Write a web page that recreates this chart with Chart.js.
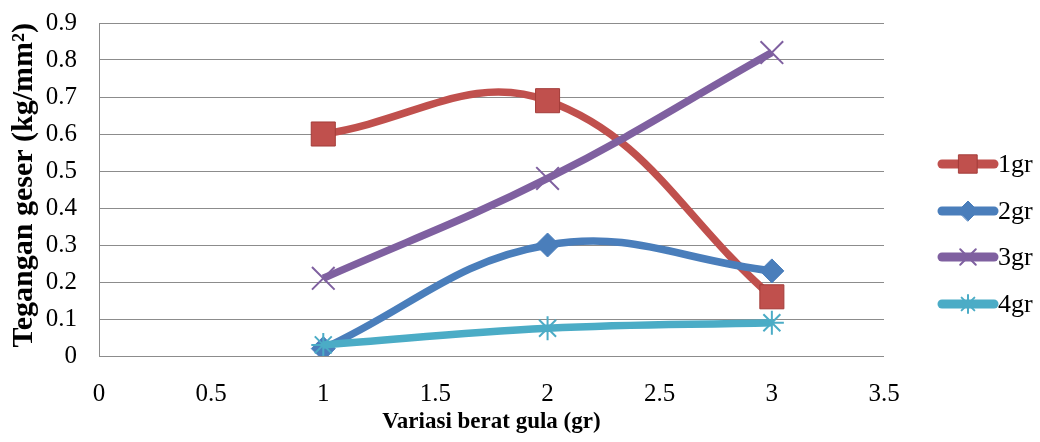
<!DOCTYPE html>
<html>
<head>
<meta charset="utf-8">
<script src="https://cdn.jsdelivr.net/npm/chart.js@4"></script>
<style>
  html, body { margin: 0; padding: 0; background: #fff; }
  #wrap { width: 1040px; height: 442px; }
</style>
</head>
<body>
<div id="wrap"><canvas id="chart"></canvas></div>
<script>
// values
const xValues = [1, 2, 3];
const seriesNames = ['1gr', '2gr', '3gr', '4gr'];
const gr1 = [0.60, 0.69, 0.16];
const gr2 = [0.02, 0.30, 0.23];
const gr3 = [0.21, 0.48, 0.82];
const gr4 = [0.03, 0.075, 0.09];

const colors = ['#C0504D', '#4A7EBB', '#7F60A0', '#4BACC6'];
const markers = ['rect', 'rectRot', 'crossRot', 'star'];
const markerSize = [17, 12, 16, 12];
const allSeries = [gr1, gr2, gr3, gr4];

const FONT = "'Liberation Serif', 'Times New Roman', serif";

const fmt = v => String(+Number(v).toFixed(2));

const datasets = allSeries.map((vals, i) => ({
    label: seriesNames[i],
    data: xValues.map((x, j) => ({ x: x, y: vals[j] })),
    showLine: true,
    tension: 0.4,
    borderColor: colors[i],
    backgroundColor: colors[i],
    borderWidth: 7.5,
    pointStyle: markers[i],
    pointRadius: markerSize[i],
    pointBorderColor: i === 0 ? '#a33c39' : colors[i],
    pointBorderWidth: i >= 2 ? 2 : 1,
    order: 4 - i
}));

// legend with line + marker, like the original
const sideLegend = {
    id: 'sideLegend',
    afterDraw(chart) {
        const ctx = chart.ctx;
        const ys = [164, 211, 257, 304];
        const legendSize = [13, 10, 11, 9];
        ctx.save();
        datasets.forEach((ds, i) => {
            const y = ys[i];
            ctx.strokeStyle = ds.borderColor;
            ctx.lineWidth = 9;
            ctx.lineCap = 'round';
            ctx.beginPath();
            ctx.moveTo(942, y);
            ctx.lineTo(994, y);
            ctx.stroke();
            ctx.fillStyle = ds.backgroundColor;
            ctx.strokeStyle = ds.pointBorderColor;
            ctx.lineWidth = ds.pointBorderWidth;
            Chart.helpers.drawPoint(ctx, {
                pointStyle: ds.pointStyle,
                radius: legendSize[i],
                borderWidth: ds.pointBorderWidth,
                rotation: 0
            }, 968, y);
            ctx.fillStyle = '#000';
            ctx.font = '26px ' + FONT;
            ctx.textAlign = 'left';
            ctx.textBaseline = 'middle';
            ctx.fillText(ds.label, 998, y + 1);
        });
        ctx.restore();
    }
};

new Chart(document.querySelector('#chart').getContext('2d'), {
    type: 'scatter',
    data: { datasets: datasets },
    options: {
        responsive: true,
        maintainAspectRatio: false,
        animation: false,
        layout: { padding: { top: 23, right: 156, left: 0, bottom: 0 } },
        plugins: {
            legend: { display: false },
            tooltip: { enabled: false }
        },
        scales: {
            x: {
                type: 'linear',
                min: 0,
                max: 3.5,
                ticks: {
                    stepSize: 0.5,
                    color: '#000',
                    font: { family: FONT, size: 25 },
                    padding: 23,
                    maxRotation: 0,
                    callback: fmt
                },
                grid: { display: false, drawTicks: false },
                border: { display: false },
                title: {
                    display: true,
                    text: 'Variasi berat gula (gr)',
                    color: '#000',
                    font: { family: FONT, size: 23, weight: 'bold' },
                    padding: { top: 2, bottom: 6 }
                },
                afterFit(scale) {
                    scale.height = 86;
                    scale.paddingLeft = 0;
                    scale.paddingRight = 0;
                }
            },
            y: {
                min: 0,
                max: 0.9,
                ticks: {
                    stepSize: 0.1,
                    color: '#000',
                    font: { family: FONT, size: 25 },
                    padding: 22,
                    callback: fmt
                },
                grid: { color: '#8c8c8c', lineWidth: 1, drawTicks: false },
                border: { display: true, color: '#8c8c8c' },
                title: {
                    display: true,
                    align: 'end',
                    text: 'Tegangan geser (kg/mm²)',
                    color: '#000',
                    font: { family: FONT, size: 30, weight: 'bold' },
                    padding: { top: 6, bottom: 0 }
                },
                afterFit(scale) {
                    scale.width = 99;
                    scale.paddingTop = 0;
                    scale.paddingBottom = 0;
                }
            }
        }
    },
    plugins: [sideLegend]
});
</script>
</body>
</html>
